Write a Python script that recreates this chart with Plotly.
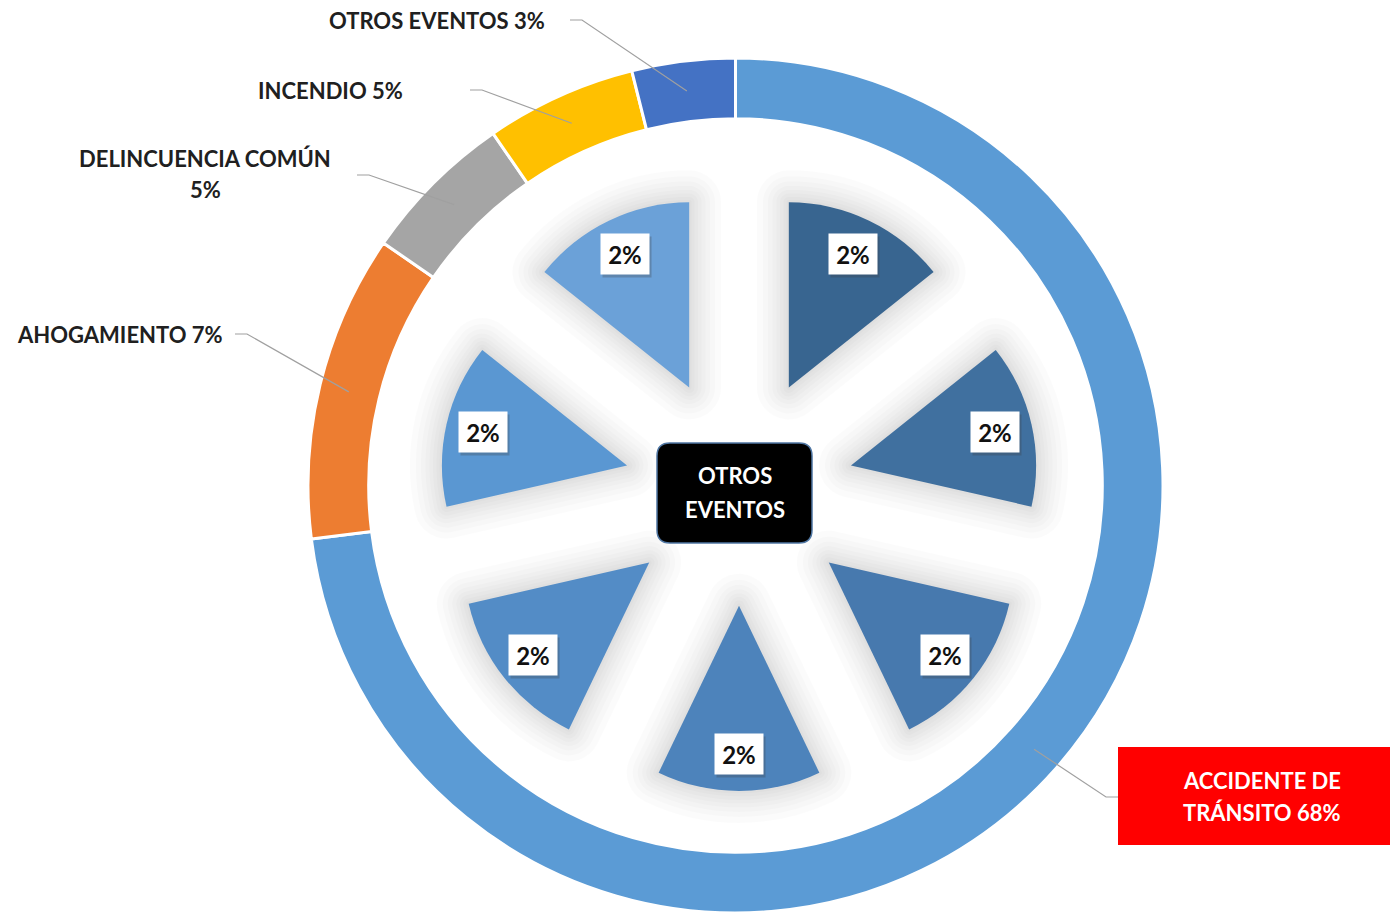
import math
import plotly.graph_objects as go

# ---------------- data ----------------
ring_labels = ["ACCIDENTE DE TRÁNSITO", "AHOGAMIENTO", "DELINCUENCIA COMÚN", "INCENDIO", "OTROS EVENTOS"]
ring_values = [73.0, 11.6, 5.8, 5.7, 3.9]          # arc shares as drawn in the picture
ring_pct_text = ["68%", "7%", "5%", "5%", "3%"]     # percentages printed on the labels
ring_colors = ["#5B9BD5", "#ED7D31", "#A5A5A5", "#FFC000", "#4472C4"]

inner_labels = ["Evento 1", "Evento 2", "Evento 3", "Evento 4", "Evento 5", "Evento 6", "Evento 7"]
inner_values = [2, 2, 2, 2, 2, 2, 2]
inner_pct_text = ["2%", "2%", "2%", "2%", "2%", "2%", "2%"]
inner_colors = ["#386590", "#40709F", "#4779AE", "#4D83BB", "#538CC6", "#5A97D2", "#6BA1D8"]

center_title = ["OTROS", "EVENTOS"]

# ---------------- layout constants ----------------
PAGE_OFF = 8               # default body margin of the html page
W, H = 1398 - PAGE_OFF, 913 - PAGE_OFF
CX, CY = 735.5, 486        # ring centre in screen pixels
R_OUT = 428                # outer ring radius (px)
HOLE = 0.858
ICX, ICY = 739, 491        # inner pie centre
PULL = 0.62
INNER_EXTENT = 300         # inner pie radius incl. pull (px)
FONT = "Lato"
TXT = "#202020"

def px(x):
    return (x - PAGE_OFF) / W

def py(y):
    return 1 - (y - PAGE_OFF) / H

def polar(cx, cy, angle_deg, r):
    a = math.radians(angle_deg)
    return cx + r * math.sin(a), cy - r * math.cos(a)

def mid_angles(values):
    tot = float(sum(values))
    out, cum = [], 0.0
    for v in values:
        out.append((cum + v / 2.0) / tot * 360.0)
        cum += v
    return out

fig = go.Figure()

# outer ring
fig.add_trace(go.Pie(
    labels=ring_labels, values=ring_values, hole=HOLE, sort=False,
    direction="clockwise", rotation=0,
    marker=dict(colors=ring_colors, line=dict(color="white", width=3)),
    textinfo="none", hoverinfo="label+value", showlegend=False,
    domain=dict(x=[max(0.0, px(CX - R_OUT)), min(1.0, px(CX + R_OUT))],
                y=[max(0.0, py(CY + R_OUT)), min(1.0, py(CY - R_OUT))]),
))

inner_domain = dict(x=[px(ICX - INNER_EXTENT), px(ICX + INNER_EXTENT)],
                    y=[py(ICY + INNER_EXTENT), py(ICY - INNER_EXTENT)])

# soft shadow behind inner wedges
for w in [64, 52, 42, 33, 25, 18, 11, 5]:
    fig.add_trace(go.Pie(
        labels=inner_labels, values=inner_values, sort=False,
        direction="clockwise", rotation=0, pull=[PULL] * len(inner_values),
        marker=dict(colors=["rgba(0,0,0,0)"] * len(inner_values),
                    line=dict(color="rgba(0,0,0,0.014)", width=w)),
        textinfo="none", hoverinfo="skip", showlegend=False,
        domain=inner_domain,
    ))

# inner exploded pie
fig.add_trace(go.Pie(
    labels=inner_labels, values=inner_values, sort=False,
    direction="clockwise", rotation=0, pull=[PULL] * len(inner_values),
    marker=dict(colors=inner_colors, line=dict(width=0)),
    textinfo="none", hoverinfo="label+value", showlegend=False,
    domain=inner_domain,
))

shapes = []
annotations = []

# inner value labels (white boxes)
r_inner = 2 * INNER_EXTENT / (2 + 2 * PULL)
for ang, t in zip(mid_angles(inner_values), inner_pct_text):
    x, y = polar(ICX, ICY, ang, r_inner * (PULL + 0.80))
    common = dict(x=px(x), y=py(y), xref="paper", yref="paper", showarrow=False,
                  xanchor="center", yanchor="middle", width=46, height=38, borderpad=1)
    annotations.append(dict(common, text=" ", bgcolor="rgba(60,60,60,0.28)", xshift=2, yshift=-3))
    annotations.append(dict(common, text=t, bgcolor="white",
                            font=dict(family=FONT, size=24, color="#111111", weight=700)))

# outer labels: text placement (layout only)
label_layout = [
    dict(cx=1262, cy=796, brk=2, sx=1118, sy=797, side=-1, color="white", box=(1118, 747, 1398, 845)),
    dict(cx=120, cy=334, brk=None, sx=235, sy=334, side=1, color=TXT, box=None),
    dict(cx=205, cy=174, brk=2, sx=357, sy=175, side=1, color=TXT, box=None),
    dict(cx=330, cy=90, brk=None, sx=470, sy=90, side=1, color=TXT, box=None),
    dict(cx=437, cy=20, brk=None, sx=570, sy=20, side=1, color=TXT, box=None),
]
LINE_GAP = 32
for i, (lab, pct, ang) in enumerate(zip(ring_labels, ring_pct_text, mid_angles(ring_values))):
    L = label_layout[i]
    words = (lab + " " + pct).split(" ")
    if L["brk"]:
        lines = [" ".join(words[:L["brk"]]), " ".join(words[L["brk"]:])]
    else:
        lines = [" ".join(words)]
    if L["box"]:
        x0, y0, x1, y1 = L["box"]
        shapes.append(dict(type="rect", xref="paper", yref="paper",
                           x0=px(x0), x1=min(1.0, px(x1)), y0=py(y1), y1=py(y0),
                           fillcolor="#FF0000", line=dict(width=0), layer="above"))
    n = len(lines)
    for k, ln in enumerate(lines):
        yy = L["cy"] + (k - (n - 1) / 2.0) * LINE_GAP
        annotations.append(dict(x=px(L["cx"]), y=py(yy), xref="paper", yref="paper",
                                text=ln, showarrow=False, xanchor="center", yanchor="middle",
                                font=dict(family=FONT, size=22, color=L["color"], weight=700)))
    tx, ty = polar(CX, CY, ang, 398)
    hx = L["sx"] + L["side"] * 12
    shapes.append(dict(type="path", xref="paper", yref="paper",
                       path=f"M {px(L['sx'])},{py(L['sy'])} L {px(hx)},{py(L['sy'])} L {px(tx)},{py(ty)}",
                       line=dict(color="#A0A0A0", width=1.2), layer="above"))

# centre title box (rounded)
bx0, by0, bx1, by1, rr = 657, 443, 812, 543, 13
def P(x, y):
    return f"{px(x)},{py(y)}"
path = (f"M {P(bx0+rr, by0)} L {P(bx1-rr, by0)} Q {P(bx1, by0)} {P(bx1, by0+rr)} "
        f"L {P(bx1, by1-rr)} Q {P(bx1, by1)} {P(bx1-rr, by1)} "
        f"L {P(bx0+rr, by1)} Q {P(bx0, by1)} {P(bx0, by1-rr)} "
        f"L {P(bx0, by0+rr)} Q {P(bx0, by0)} {P(bx0+rr, by0)} Z")
shapes.append(dict(type="path", xref="paper", yref="paper", path=path,
                   fillcolor="#000000", line=dict(color="#4F76A3", width=1.5), layer="above"))
ccx, ccy = (bx0 + bx1) / 2.0, (by0 + by1) / 2.0
for k, ln in enumerate(center_title):
    yy = ccy + (k - (len(center_title) - 1) / 2.0) * 34
    annotations.append(dict(x=px(ccx), y=py(yy), xref="paper", yref="paper", text=ln,
                            showarrow=False, xanchor="center", yanchor="middle",
                            font=dict(family=FONT, size=22, color="white", weight=700)))

fig.update_layout(
    width=W, height=H,
    margin=dict(l=0, r=0, t=0, b=0),
    paper_bgcolor="white", plot_bgcolor="white",
    shapes=shapes, annotations=annotations,
    showlegend=False,
)

fig.write_html("out.html")
